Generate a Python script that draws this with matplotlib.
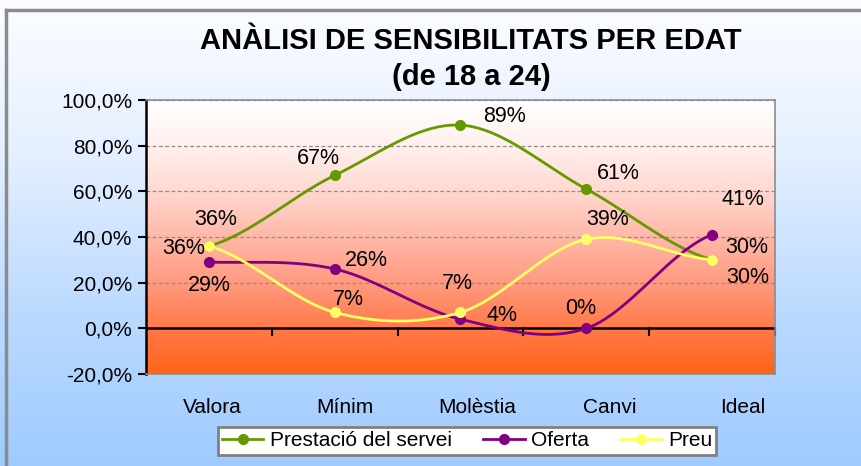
import numpy as np
import matplotlib
matplotlib.use("Agg")
import matplotlib.pyplot as plt
from matplotlib.colors import LinearSegmentedColormap
from matplotlib.lines import Line2D

plt.rcParams['font.family'] = ['Liberation Sans', 'DejaVu Sans']

categories = ["Valora", "Mínim", "Molèstia", "Canvi", "Ideal"]
prestacio = [36, 67, 89, 61, 30]
oferta = [29, 26, 4, 0, 41]
preu = [36, 7, 7, 39, 30]
series_names = ["Prestació del servei", "Oferta", "Preu"]
yticks = [-20, 0, 20, 40, 60, 80, 100]
title = "ANÀLISI DE SENSIBILITATS PER EDAT\n(de 18 a 24)"

colors = ["#669900", "#800080", "#FFFF66"]

# label offsets in points (dx, dy)
offsets = [
    [(5, 19), (-12, 12), (32, 6), (23, 11), (25, 9)],
    [(0, -17), (23, 6), (30, 3), (-4, 14), (22, 25)],
    [(-18, -2), (10, 9), (-2, 21), (15, 14), (26, -13)],
]

def catmull(xs, ys, n=40, tension=0.5):
    xs = np.asarray(xs, float); ys = np.asarray(ys, float)
    px = np.concatenate([[2*xs[0]-xs[1]], xs, [2*xs[-1]-xs[-2]]])
    py = np.concatenate([[ys[0]], ys, [ys[-1]]])
    outx, outy = [], []
    for i in range(1, len(px)-2):
        t = np.linspace(0, 1, n, endpoint=(i == len(px)-3))
        p0, p1, p2, p3 = py[i-1], py[i], py[i+1], py[i+2]
        m1 = tension*(p2-p0); m2 = tension*(p3-p1)
        h00 = 2*t**3-3*t**2+1; h10 = t**3-2*t**2+t
        h01 = -2*t**3+3*t**2; h11 = t**3-t**2
        outy.append(h00*p1+h10*m1+h01*p2+h11*m2)
        outx.append(px[i]+t*(px[i+1]-px[i]))
    return np.concatenate(outx), np.concatenate(outy)

fig = plt.figure(figsize=(8.62, 4.66), dpi=100)

# figure background gradient
bg = fig.add_axes([0, 0, 1, 1], zorder=-10)
bg_cmap = LinearSegmentedColormap.from_list("bg", ["#FCFDFF", "#E4EFFF", "#BCDAFF", "#9ECBFF"])
bg.imshow(np.linspace(1, 0, 256).reshape(-1, 1), aspect='auto', cmap=bg_cmap,
          extent=[0, 1, 0, 1], origin='lower')
bg.set_xlim(0, 1); bg.set_ylim(0, 1)
bg.axis('off')
bg.add_line(Line2D([6/862, 6/862], [0, 1-10/466], color="#8C8C8C", lw=2.5))
bg.add_line(Line2D([6/862, 1], [1-10/466, 1-10/466], color="#8C8C8C", lw=2.5))

ax = fig.add_axes([146/862, 1-374/466, 629/862, 274/466])
ax.set_xlim(-0.5, 4.5)
ax.set_ylim(-20, 100)

pa_cmap = LinearSegmentedColormap.from_list(
    "pa", [(0.0, "#FF6418"), (0.167, "#FF7A48"), (0.333, "#FF9A80"),
           (0.5, "#FFB8A8"), (0.667, "#FFD8D0"), (0.833, "#FFF0EE"), (1.0, "#FFFFFF")])
ax.imshow(np.linspace(0, 1, 256).reshape(-1, 1), aspect='auto', cmap=pa_cmap,
          extent=[-0.5, 4.5, -20, 100], origin='lower', zorder=0)

for y in [20, 40, 60, 80, 100]:
    ax.axhline(y, color="#8C8C8C", lw=0.9, ls=(0, (3, 2)), zorder=1)
ax.axhline(0, color="black", lw=1.8, zorder=2)

x = np.arange(len(categories))
for vals, col, offs in zip([prestacio, oferta, preu], colors, offsets):
    sx, sy = catmull(x, vals)
    ax.plot(sx, sy, color=col, lw=2.0, zorder=3, solid_capstyle='round')
    ax.plot(x, vals, 'o', color=col, ms=7, zorder=4)
    for xi, v, (dx, dy) in zip(x, vals, offs):
        ax.annotate(f"{v}%", (xi, v), xytext=(dx, dy), textcoords='offset points',
                    ha='center', va='center', fontsize=15.5, color='black', zorder=5)

for sp in ['top', 'right', 'bottom']:
    ax.spines[sp].set_color("#8C8C8C")
    ax.spines[sp].set_linewidth(1.2)
ax.spines['left'].set_color("black")
ax.spines['left'].set_linewidth(1.8)

ax.set_yticks(yticks)
ax.set_yticklabels([f"{v:.1f}%".replace('.', ',') for v in yticks], fontsize=15)
ax.tick_params(axis='y', direction='out', length=6, width=1.5, pad=4)
# category labels spread slightly wider, as in the reference rendering
label_pos = 0.025 + 1.055 * x
ax.set_xticks(label_pos)
ax.set_xticklabels(categories, fontsize=15)
ax.tick_params(axis='x', length=0, pad=17)
for b in np.arange(0.5, 4.6, 1.0):
    ax.plot([b, b], [0, -2.8], color='black', lw=1.5, zorder=2, clip_on=False)

fig.text(471/862, 1-59/466, title, ha='center', va='center', fontsize=21,
         fontweight='bold', linespacing=1.35)

handles = [Line2D([0], [0], color=c, lw=2.0, marker='o', ms=7) for c in colors]
leg = fig.legend(handles, series_names, loc='center', bbox_to_anchor=(467/862, 1-441/466),
                 ncol=3, fontsize=15, frameon=True, fancybox=False, handlelength=2.0,
                 handletextpad=0.3, columnspacing=1.5, borderpad=0.2)
leg.get_frame().set_edgecolor("#808080")
leg.get_frame().set_linewidth(2.0)
leg.get_frame().set_facecolor("white")
leg.get_frame().set_alpha(1)

fig.savefig("out.png", dpi=100)
